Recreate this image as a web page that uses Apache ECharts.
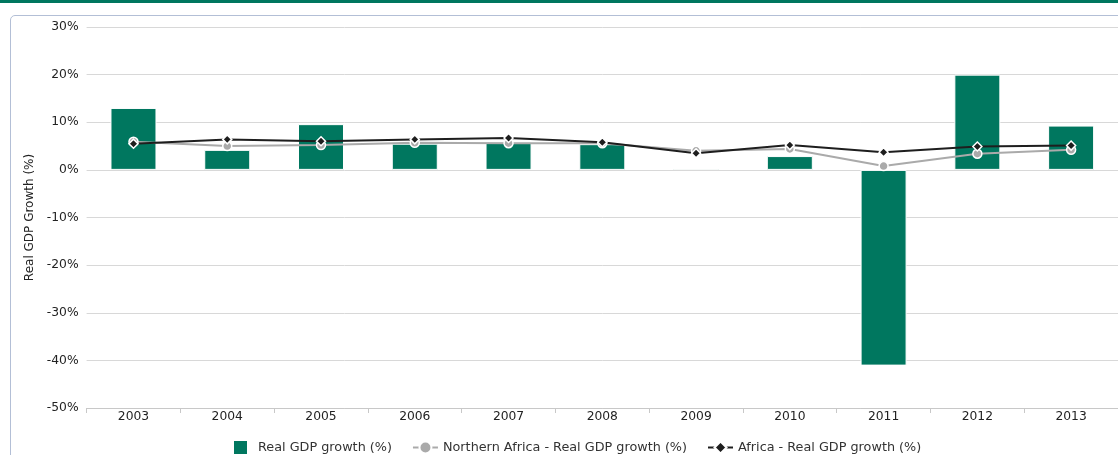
<!DOCTYPE html>
<html>
<head>
<meta charset="utf-8">
<script src="https://cdn.jsdelivr.net/npm/echarts@6/dist/echarts.min.js"></script>
<style>
  html, body { margin: 0; padding: 0; background: #fff; }
  #topBand { position: absolute; left: 0; top: 0; width: 1118px; height: 3px; background: #00775f; }
  #panel { position: absolute; left: 10px; top: 15px; width: 1120px; height: 460px;
           border: 1px solid #b3bfd6; border-radius: 5px; box-sizing: border-box; }
  #chart { position: absolute; left: 0; top: 0; width: 1118px; height: 455px; }
</style>
</head>
<body>
<div id="topBand"></div>
<div id="panel"></div>
<div id="chart"></div>
<script>
// years on x axis
var years = ['2003','2004','2005','2006','2007','2008','2009','2010','2011','2012','2013'];
// Real GDP growth (%) - bars
var gdpGrowth = [13.0, 4.2, 9.6, 5.5, 5.8, 5.4, 0.3, 2.9, -41.1, 20.0, 9.3];
// Northern Africa - Real GDP growth (%)
var nAfricaGrowth = [5.9, 5.0, 5.2, 5.7, 5.6, 5.6, 4.0, 4.4, 0.8, 3.4, 4.2];
// Africa - Real GDP growth (%)
var africaGrowth = [5.5, 6.4, 6.0, 6.4, 6.7, 5.8, 3.5, 5.2, 3.7, 4.9, 5.1];
// y axis range
var yMin = -50, yMax = 30, yStep = 10;

var font = 'DejaVu Sans';
var gdpChart = echarts.init(document.getElementById('chart'), null, {renderer: 'canvas'});
var gdpOption = {
    animation: false,
    textStyle: { fontFamily: font },
    grid: { left: 86.6, right: -5.5, top: 27, bottom: 47, containLabel: false },
    legend: {
        top: 434,
        left: 227,
        itemWidth: 25,
        itemHeight: 15,
        itemGap: 20,
        textStyle: { color: '#333', fontSize: 12.8, fontFamily: font },
        data: [
            { name: 'Real GDP growth (%)', icon: 'path://M0,0H10V10H0Z' },
            { name: 'Northern Africa - Real GDP growth (%)' },
            { name: 'Africa - Real GDP growth (%)' }
        ]
    },
    xAxis: {
        type: 'category',
        data: years,
        axisLine: { onZero: false, lineStyle: { color: '#c8c8c8' } },
        axisTick: { show: true, length: 5, lineStyle: { color: '#c8c8c8' } },
        axisLabel: { color: '#222', fontSize: 12.3, margin: 3 }
    },
    yAxis: {
        type: 'value',
        min: yMin,
        max: yMax,
        interval: yStep,
        name: 'Real GDP Growth (%)',
        nameLocation: 'middle',
        nameGap: 48,
        nameTextStyle: { color: '#222', fontSize: 12 },
        axisLine: { show: false },
        axisTick: { show: false },
        axisLabel: { color: '#222', fontSize: 12.3, margin: 8, formatter: '{value}%' },
        splitLine: { lineStyle: { color: '#d8d8d8', width: 1 } }
    },
    series: [{
        name: 'Real GDP growth (%)',
        type: 'bar',
        barWidth: 46,
        itemStyle: { color: '#00775f', borderColor: '#ffffff', borderWidth: 1 },
        data: gdpGrowth
    }, {
        name: 'Northern Africa - Real GDP growth (%)',
        type: 'line',
        symbol: 'circle',
        symbolSize: 9,
        showAllSymbol: true,
        lineStyle: { color: '#aaaaaa', width: 2 },
        itemStyle: { color: '#aaaaaa', borderColor: '#ffffff', borderWidth: 1.5 },
        data: nAfricaGrowth
    }, {
        name: 'Africa - Real GDP growth (%)',
        type: 'line',
        symbol: 'diamond',
        symbolSize: 9,
        showAllSymbol: true,
        lineStyle: { color: '#1e1e1e', width: 2 },
        itemStyle: { color: '#1e1e1e', borderColor: '#ffffff', borderWidth: 1.5 },
        data: africaGrowth
    }]
};
gdpChart.setOption(gdpOption);
</script>
</body>
</html>
